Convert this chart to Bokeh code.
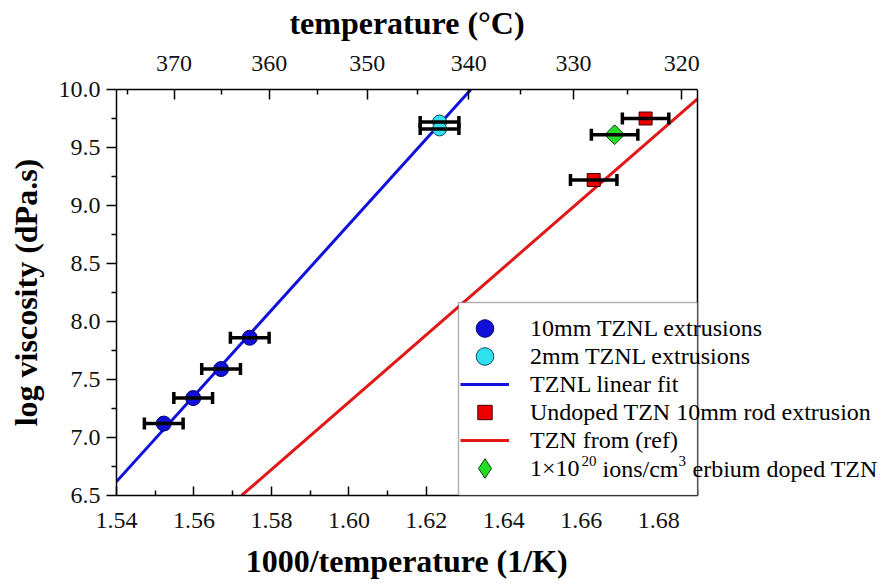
from bokeh.plotting import figure
from bokeh.models import (ColumnDataSource, Whisker, TeeHead, LinearAxis, FixedTicker,
                          CustomJSTickFormatter, PrintfTickFormatter, Legend, LegendItem,
                          BoxAnnotation, Range1d, Span, Label, Title)
from bokeh.embed import file_html
from bokeh.resources import INLINE

# ---------------- data ----------------
tznl10_x = [1.5522, 1.5598, 1.5670, 1.5744]
tznl10_y = [7.12, 7.34, 7.59, 7.86]
tznl10_err = [0.005, 0.005, 0.005, 0.005]

tznl2_x = [1.6234, 1.6234]
tznl2_y = [9.72, 9.66]
tznl2_err = [0.005, 0.005]

tzn_x = [1.6766, 1.6632]
tzn_y = [9.75, 9.22]
tzn_err = [0.006, 0.006]

er_x = [1.6686]
er_y = [9.61]
er_err = [0.006]

fit_tznl_x = [1.54, 1.6315]
fit_tznl_y = [6.62, 10.0]

ref_tzn_x = [1.5723, 1.69]
ref_tzn_y = [6.5, 9.92]

x_lo, x_hi = 1.54, 1.69
y_lo, y_hi = 6.5, 10.0
x_major = [1.54, 1.56, 1.58, 1.60, 1.62, 1.64, 1.66, 1.68]
x_minor = [1.55, 1.57, 1.59, 1.61, 1.63, 1.65, 1.67, 1.69]
y_major = [6.5, 7.0, 7.5, 8.0, 8.5, 9.0, 9.5, 10.0]
y_minor = [6.75, 7.25, 7.75, 8.25, 8.75, 9.25, 9.75]
temp_major = [370, 360, 350, 340, 330, 320]
temp_minor = [375, 365, 355, 345, 335, 325]

x_title = "1000/temperature (1/K)"
top_title = "temperature (\u00b0C)"
y_title = "log viscosity (dPa.s)"
labels = ["10mm TZNL extrusions", "2mm TZNL extrusions", "TZNL linear fit",
          "Undoped TZN 10mm rod extrusion", "TZN from (ref)", "1\u00d710"]
label6_parts = ["20", "ions/cm", "3", "erbium doped TZN"]

SERIF = "Liberation Serif"

# layout (pixels)
L, R, T, B = 116, 697, 89, 495
FRAME_W = 881 - L
PLOT_W = R - L
PLOT_H = B - T
x_view_hi = x_lo + (x_hi - x_lo) * FRAME_W / PLOT_W


def px2x(px):
    return x_lo + (x_hi - x_lo) * (px - L) / PLOT_W


def px2y(py):
    return y_hi - (y_hi - y_lo) * (py - T) / PLOT_H


p = figure(width=881, height=588, output_backend="svg", toolbar_location=None,
           x_range=Range1d(x_lo, x_view_hi), y_range=Range1d(y_lo, y_hi),
           min_border_left=L, min_border_right=0, min_border_top=T,
           min_border_bottom=588 - B, x_axis_location=None, y_axis_location=None)
p.xgrid.visible = False
p.ygrid.visible = False
p.outline_line_alpha = 0
p.background_fill_color = "white"
p.border_fill_color = "white"


def style_axis(ax):
    ax.axis_line_width = 1.5
    ax.axis_line_color = "black"
    ax.major_tick_line_width = 1.5
    ax.minor_tick_line_width = 1.5
    ax.major_tick_line_color = "black"
    ax.minor_tick_line_color = "black"
    ax.major_label_text_font = SERIF
    ax.major_label_text_font_size = "24px"
    ax.major_label_text_color = "#111111"
    ax.axis_label_text_font = SERIF
    ax.axis_label_text_font_size = "32px"
    ax.axis_label_text_font_style = "bold"
    ax.axis_label_text_color = "black"


xb = LinearAxis(bounds=(x_lo, x_hi),
                ticker=FixedTicker(ticks=x_major, minor_ticks=x_minor),
                formatter=PrintfTickFormatter(format="%.2f"))
style_axis(xb)
xb.major_tick_in = 9
xb.major_tick_out = 0
xb.minor_tick_in = 5
xb.minor_tick_out = 0
xb.major_label_standoff = 17
p.add_layout(xb, "below")
# bottom title centred over the plotted box (not over the wider frame)
bt = Title(text=x_title, align="left", offset=(PLOT_W - 10.08 * 32) / 2,
           text_font=SERIF, text_font_size="32px", text_font_style="bold",
           text_color="black", standoff=20)
p.add_layout(bt, "below")

temp_pos = [1000.0 / (t + 273.15) for t in temp_major]
temp_min_pos = [1000.0 / (t + 273.15) for t in temp_minor]
# top label: padded with no-break spaces so that it centres over the plotted box
pad = "\u00a0" * 23
xt = LinearAxis(bounds=(x_lo, x_hi), axis_label=top_title + pad,
                ticker=FixedTicker(ticks=temp_pos, minor_ticks=temp_min_pos),
                formatter=CustomJSTickFormatter(code="return (1000/tick - 273.15).toFixed(0);"))
style_axis(xt)
xt.major_tick_in = 10
xt.major_tick_out = 0
xt.minor_tick_in = 5
xt.minor_tick_out = 0
xt.major_label_standoff = 19
xt.axis_label_standoff = 12
p.add_layout(xt, "above")

yl = LinearAxis(axis_label=y_title,
                ticker=FixedTicker(ticks=y_major, minor_ticks=y_minor),
                formatter=PrintfTickFormatter(format="%.1f"))
style_axis(yl)
yl.major_tick_in = 0
yl.major_tick_out = 10
yl.minor_tick_in = 0
yl.minor_tick_out = 5
yl.major_label_standoff = 6
yl.axis_label_standoff = 12
p.add_layout(yl, "left")

# right border of the plotting box
p.add_layout(Span(location=x_hi, dimension="height", line_color="black", line_width=1.5))

# ---------------- fit lines ----------------
r_fit = p.line(fit_tznl_x, fit_tznl_y, line_color="#1111dd", line_width=3)
r_ref = p.line(ref_tzn_x, ref_tzn_y, line_color="#e01818", line_width=3)


# ---------------- error bars ----------------
def add_err(xs, ys, errs):
    src = ColumnDataSource(dict(y=ys, lo=[x - e for x, e in zip(xs, errs)],
                                hi=[x + e for x, e in zip(xs, errs)]))
    w = Whisker(source=src, base="y", lower="lo", upper="hi", dimension="width",
                line_width=3.5, line_color="black",
                lower_head=TeeHead(size=12, line_width=3.5, line_color="black"),
                upper_head=TeeHead(size=12, line_width=3.5, line_color="black"))
    w.level = "glyph"
    p.add_layout(w)


add_err(tznl10_x, tznl10_y, tznl10_err)
add_err(tznl2_x, tznl2_y, tznl2_err)
add_err(tzn_x, tzn_y, tzn_err)
add_err(er_x, er_y, er_err)

# ---------------- markers ----------------
r_b = p.scatter(tznl10_x, tznl10_y, marker="circle", size=15, fill_color="#1010d8",
                line_color="#000070", line_width=1)
r_c = p.scatter(tznl2_x, tznl2_y, marker="circle", size=14, fill_color="#30e0f0",
                line_color="#104858", line_width=1)
r_r = p.scatter(tzn_x, tzn_y, marker="square", size=13, fill_color="#ee0000",
                line_color="#400000", line_width=1)
# diamond used for the legend swatch; hidden under the rotated square below
r_g_leg = p.scatter(er_x, er_y, marker="diamond", size=18, fill_color="#22dd22",
                    line_color="#104010", line_width=1)
r_g = p.scatter(er_x, er_y, marker="square", angle=0.7854, size=14, fill_color="#22dd22",
                line_color="#104010", line_width=1)

# ---------------- legend ----------------
box = BoxAnnotation(left=px2x(458), right=x_hi, bottom=y_lo, top=px2y(302),
                    fill_color="white", fill_alpha=1.0, line_color="black", line_width=1.5)
p.add_layout(box)

row_centers = [328, 356, 384, 412, 440, 468]
glyph_heights = [44, 44, 40, 36, 40, 58]
renderers = [r_b, r_c, r_fit, r_r, r_ref, r_g_leg]
for lab, rend, cy, gh in zip(labels, renderers, row_centers, glyph_heights):
    lg = Legend(items=[LegendItem(label=lab, renderers=[rend])],
                location=(460 - L, B - cy - gh / 2), padding=0, margin=0, spacing=0,
                glyph_width=49, glyph_height=gh, label_height=24, label_standoff=21,
                label_text_font=SERIF, label_text_font_size="24px",
                label_text_color="black",
                border_line_alpha=0, background_fill_alpha=0)
    p.add_layout(lg, "center")

# rest of the last legend entry, with true superscripts
part_x = [581, 602, 678, 692]
part_dy = [-8, 0, -8, 0]
part_size = ["15px", "24px", "15px", "24px"]
for txt, px, dy, fs in zip(label6_parts, part_x, part_dy, part_size):
    p.add_layout(Label(x=px2x(px), y=px2y(row_centers[5] + dy), text=txt,
                       text_font=SERIF, text_font_size=fs, text_color="black",
                       text_baseline="middle", text_align="left"))

open("out.html", "w").write(file_html(p, INLINE))
